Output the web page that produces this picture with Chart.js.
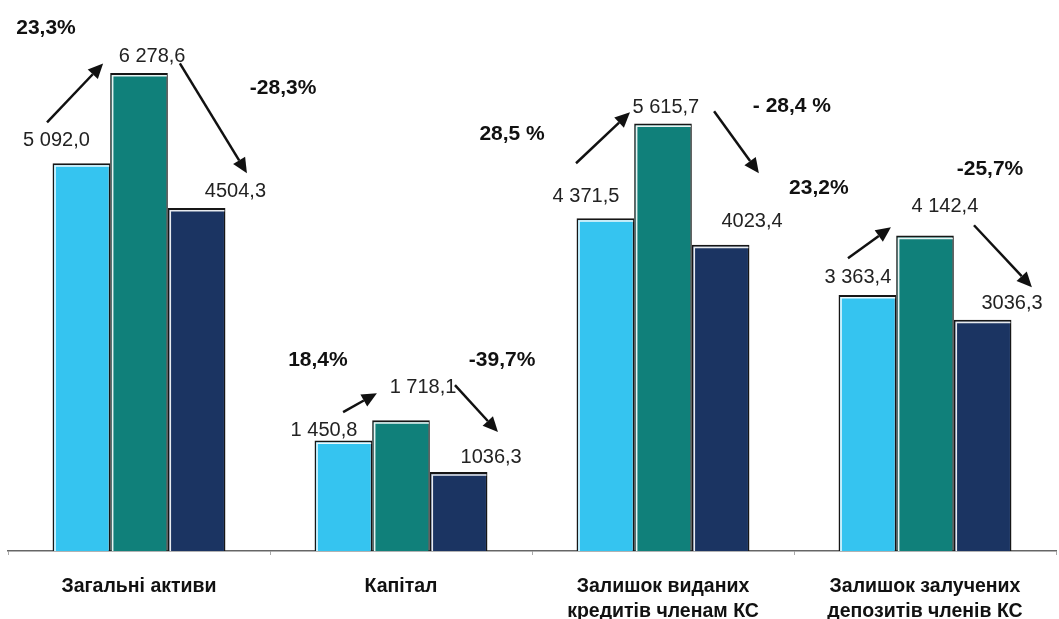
<!DOCTYPE html>
<html>
<head>
<meta charset="utf-8">
<script src="https://cdn.jsdelivr.net/npm/chart.js@4.4.0/dist/chart.umd.min.js"></script>
<style>
  html, body { margin: 0; padding: 0; background: #fff; overflow: hidden; }
  #wrap { position: relative; width: 1059px; height: 619px; }
</style>
</head>
<body>
<div id="wrap"><canvas id="grafico"></canvas></div>
<script>
// categorias (rótulos do eixo x, em linhas)
const categorias = [
  ["Загальні активи"],
  ["Капітал"],
  ["Залишок виданих", "кредитів членам КС"],
  ["Залишок залучених", "депозитів членів КС"],
];

// valores das três colunas de cada grupo
const serie1 = [5092.0, 1450.8, 4371.5, 3363.4];
const serie2 = [6278.6, 1718.1, 5615.7, 4142.4];
const serie3 = [4504.3, 1036.3, 4023.4, 3036.3];

// textos dos valores como aparecem no gráfico
const rotulos1 = ["5 092,0", "1 450,8", "4 371,5", "3 363,4"];
const rotulos2 = ["6 278,6", "1 718,1", "5 615,7", "4 142,4"];
const rotulos3 = ["4504,3", "1036,3", "4023,4", "3036,3"];

// variações em %
const variacoes = ["23,3%", "-28,3%", "18,4%", "-39,7%", "28,5 %", "- 28,4 %", "23,2%", "-25,7%"];

// ---- posição das anotações (categoria, deslocamento em fração da categoria, valor no eixo y) ----
const posRotulos = [
  // [serie1, serie2, serie3] por categoria
  [[-0.315, 5394], [0.05, 6496], [0.368, 4724]],
  [[-0.294, 1588], [0.084, 2152], [0.344, 1234]],
  [[-0.294, 4659], [0.011, 5820], [0.34, 4331]],
  [[-0.256, 3596], [0.076, 4521], [0.332, 3255]],
];
const posVariacoes = [
  [0, -0.355, 6864], [0, 0.55, 6076],
  [1, -0.317, 2507], [1, 0.386, 2507],
  [2, -0.576, 5472], [2, 0.492, 5840],
  [3, -0.405, 4764], [3, 0.248, 5013],
];
const setas = [
  // cat, dx1, y1, dx2, y2
  [0, -0.351, 5630, -0.137, 6404],
  [0, 0.156, 6404, 0.412, 4961],
  [1, -0.221, 1824, -0.092, 2073],
  [1, 0.206, 2178, 0.370, 1562],
  [2, -0.332, 5092, -0.126, 5761],
  [2, 0.195, 5774, 0.366, 4961],
  [3, -0.294, 3845, -0.130, 4252],
  [3, 0.187, 4278, 0.408, 3465],
];

const FONTE = "'Liberation Sans', Arial, sans-serif";

function desenharSeta(ctx, x1, y1, x2, y2) {
  const ang = Math.atan2(y2 - y1, x2 - x1);
  const cab = 15;
  const larg = 7;
  const bx = x2 - cab * Math.cos(ang);
  const by = y2 - cab * Math.sin(ang);
  ctx.beginPath();
  ctx.moveTo(x1, y1);
  ctx.lineTo(bx, by);
  ctx.lineWidth = 2.5;
  ctx.strokeStyle = "#111";
  ctx.stroke();
  ctx.beginPath();
  ctx.moveTo(x2, y2);
  ctx.lineTo(bx + larg * Math.sin(ang), by - larg * Math.cos(ang));
  ctx.lineTo(bx - larg * Math.sin(ang), by + larg * Math.cos(ang));
  ctx.closePath();
  ctx.fillStyle = "#111";
  ctx.fill();
}

const anotacoes = {
  id: "anotacoes",
  afterDatasetsDraw(chart) {
    const ctx = chart.ctx;
    const xs = chart.scales.x;
    const ys = chart.scales.y;
    const larguraCat = xs.width / categorias.length;
    const px = (cat, dx) => xs.getPixelForValue(cat) + dx * larguraCat;

    ctx.save();
    // brilho branco no topo das barras
    chart.data.datasets.forEach((ds, i) => {
      chart.getDatasetMeta(i).data.forEach((bar) => {
        const esq = bar.x - bar.width / 2;
        ctx.strokeStyle = "rgba(255,255,255,0.9)";
        ctx.lineWidth = 1.5;
        ctx.beginPath();
        ctx.moveTo(esq + 2.5, bar.base);
        ctx.lineTo(esq + 2.5, bar.y + 2.8);
        ctx.lineTo(bar.x + bar.width / 2 - 1, bar.y + 2.8);
        ctx.stroke();
      });
    });

    // valores
    const rotulos = [rotulos1, rotulos2, rotulos3];
    ctx.textAlign = "center";
    ctx.textBaseline = "middle";
    ctx.fillStyle = "#222";
    ctx.font = "20px " + FONTE;
    posRotulos.forEach((grupo, cat) => {
      grupo.forEach((p, s) => {
        ctx.fillText(rotulos[s][cat], px(cat, p[0]), ys.getPixelForValue(p[1]));
      });
    });

    // variações
    ctx.font = "bold 21px " + FONTE;
    ctx.fillStyle = "#111";
    posVariacoes.forEach((p, i) => {
      ctx.fillText(variacoes[i], px(p[0], p[1]), ys.getPixelForValue(p[2]));
    });

    // setas
    setas.forEach((s) => {
      desenharSeta(ctx, px(s[0], s[1]), ys.getPixelForValue(s[2]), px(s[0], s[3]), ys.getPixelForValue(s[4]));
    });
    ctx.restore();
  },
};

const bordaBarra = { top: 2, left: 1.5, right: 1.5, bottom: 0 };

new Chart(document.getElementById("grafico"), {
  type: "bar",
  data: {
    labels: categorias,
    datasets: [
      { data: serie1, backgroundColor: "#35C4F0", borderColor: "#161616", borderWidth: bordaBarra },
      { data: serie2, backgroundColor: "#10807A", borderColor: "#161616", borderWidth: bordaBarra },
      { data: serie3, backgroundColor: "#1B3462", borderColor: "#161616", borderWidth: bordaBarra },
    ],
  },
  options: {
    responsive: true,
    maintainAspectRatio: false,
    animation: false,
    devicePixelRatio: 1,
    layout: { padding: { left: 8, right: 3, top: 18, bottom: 0 } },
    datasets: { bar: { categoryPercentage: 0.66, barPercentage: 1 } },
    plugins: {
      legend: { display: false },
      tooltip: { enabled: false },
    },
    scales: {
      x: {
        afterFit(scale) { scale.height = 68; },
        border: { display: true, color: "#666", width: 1.5 },
        grid: { offset: true, drawOnChartArea: false, drawTicks: true, tickLength: 4, color: "#aaa" },
        ticks: {
          color: "#111",
          padding: 19,
          font: { family: FONTE, size: 19.5, weight: "bold", lineHeight: 1.3 },
          maxRotation: 0,
          autoSkip: false,
        },
      },
      y: {
        display: false,
        min: 0,
        max: 7000,
      },
    },
  },
  plugins: [anotacoes],
});
</script>
</body>
</html>
